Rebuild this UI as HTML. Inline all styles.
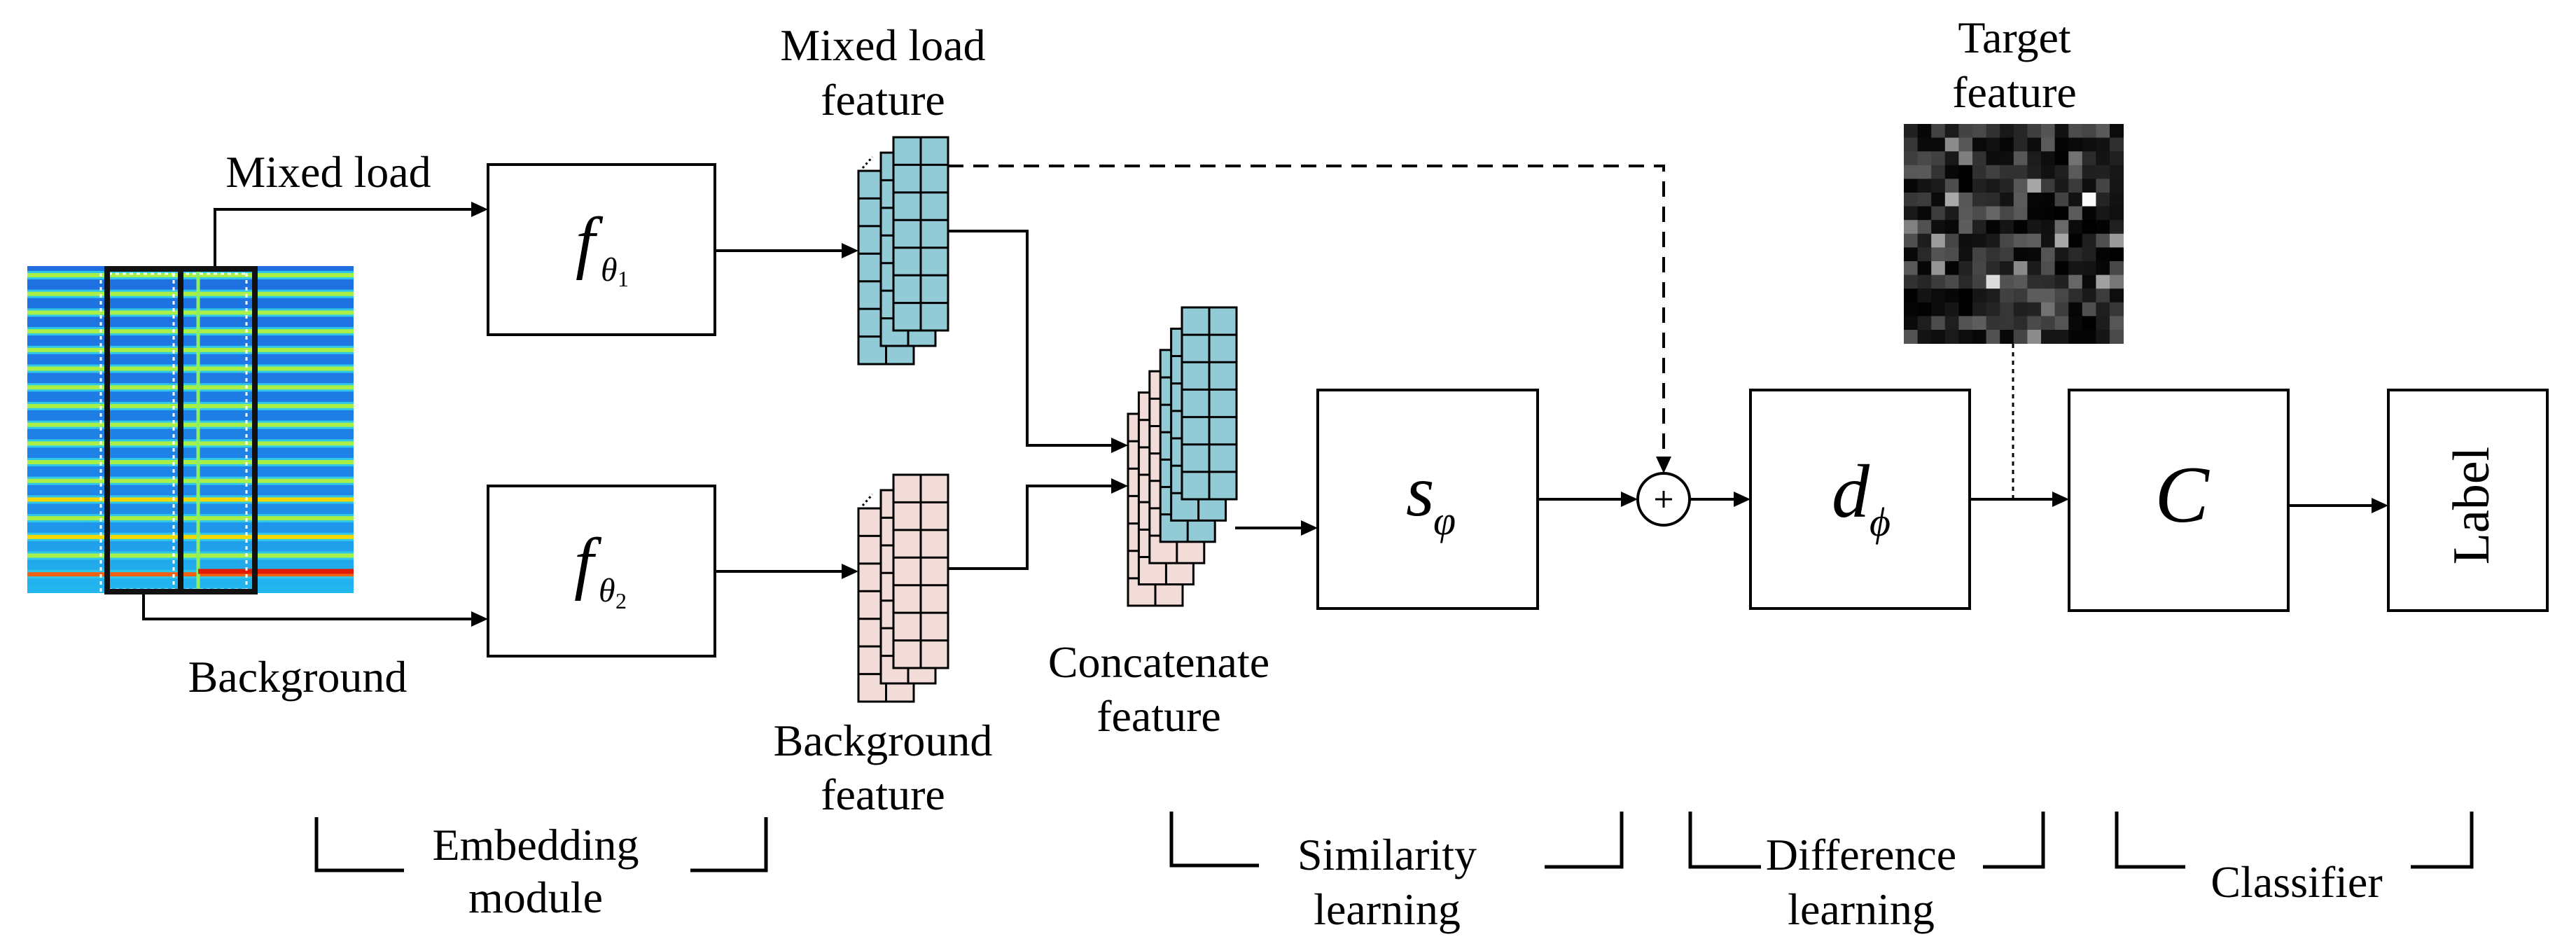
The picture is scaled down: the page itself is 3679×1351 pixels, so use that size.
<!DOCTYPE html>
<html><head><meta charset="utf-8">
<style>
html,body{margin:0;padding:0;background:#fff;}
#wrap{position:relative;width:3679px;height:1351px;overflow:hidden;}
svg{display:block;position:absolute;left:0;top:0;}
.t{position:absolute;font-family:"Liberation Serif","Times New Roman",serif;font-size:64px;line-height:64px;white-space:nowrap;color:#000;transform:translateX(-50%);}
.m{position:absolute;font-family:"Liberation Serif","Times New Roman",serif;font-style:italic;line-height:1;white-space:nowrap;color:#000;}
</style></head>
<body><div id="wrap">
<svg id="s" width="3679" height="1351" viewBox="0 0 3679 1351" xmlns="http://www.w3.org/2000/svg">
<defs>
<linearGradient id="bg" x1="0" y1="0" x2="0" y2="1">
<stop offset="0" stop-color="#1f6fe0"/><stop offset="0.7" stop-color="#1f86e8"/><stop offset="1" stop-color="#22b8ee"/>
</linearGradient>
</defs>
<rect x="39" y="380" width="466" height="467" fill="url(#bg)"/>
<g id="stripes"></g>
<line x1="283" y1="380" x2="283" y2="847" stroke="#8ef060" stroke-width="5"/>
<line x1="283" y1="816" x2="505" y2="816" stroke="#e21a00" stroke-width="7"/>
<g stroke="#fff" stroke-width="3" stroke-dasharray="5 5" fill="none">
<line x1="144" y1="390" x2="144" y2="845"/>
<line x1="248" y1="390" x2="248" y2="845"/>
<line x1="352" y1="390" x2="352" y2="845"/>
<line x1="155" y1="842" x2="350" y2="842"/>
<line x1="155" y1="391" x2="350" y2="391"/>
</g>
<rect x="153" y="384" width="211" height="461" fill="none" stroke="#111" stroke-width="8"/>
<line x1="258" y1="384" x2="258" y2="845" stroke="#111" stroke-width="8"/>

<g stroke="#000" stroke-width="4" fill="none">
<polyline points="307,380 307,299 676,299"/>
<polyline points="205,849 205,884 676,884"/>
<line x1="1021" y1="358" x2="1205" y2="358"/>
<line x1="1021" y1="816" x2="1205" y2="816"/>
<polyline points="1354,330 1467,330 1467,636 1590,636"/>
<polyline points="1354,812 1467,812 1467,694 1590,694"/>
<line x1="1764" y1="754" x2="1861" y2="754"/>
<line x1="2196" y1="713" x2="2318" y2="713"/>
<line x1="2414" y1="713" x2="2480" y2="713"/>
<line x1="2813" y1="713" x2="2935" y2="713"/>
<line x1="3268" y1="722" x2="3391" y2="722"/>
</g>
<polyline points="1354,237 2376,237 2376,655" stroke="#000" stroke-width="4" fill="none" stroke-dasharray="22 14"/>
<line x1="2875" y1="491" x2="2875" y2="713" stroke="#000" stroke-width="3" stroke-dasharray="6 6"/>
<g fill="#000">
<polygon points="697,299 673,288 673,310"/>
<polygon points="697,884 673,873 673,895"/>
<polygon points="1226,358 1202,347 1202,369"/>
<polygon points="1226,816 1202,805 1202,827"/>
<polygon points="1611,636 1587,625 1587,647"/>
<polygon points="1611,694 1587,683 1587,705"/>
<polygon points="1882,754 1858,743 1858,765"/>
<polygon points="2339,713 2315,702 2315,724"/>
<polygon points="2500,713 2476,702 2476,724"/>
<polygon points="2955,713 2931,702 2931,724"/>
<polygon points="3411,722 3387,711 3387,733"/>
<polygon points="2376,676 2365,652 2387,652"/>
</g>
<circle cx="2376" cy="713" r="37" fill="#fff" stroke="#000" stroke-width="4"/>
<line x1="2364" y1="713" x2="2388" y2="713" stroke="#000" stroke-width="3"/>
<line x1="2376" y1="701" x2="2376" y2="725" stroke="#000" stroke-width="3"/>

<g fill="#fff" stroke="#000" stroke-width="4">
<rect x="697" y="235" width="324" height="243"/>
<rect x="697" y="694" width="324" height="243"/>
<rect x="1882" y="557" width="314" height="312"/>
<rect x="2500" y="557" width="313" height="312"/>
<rect x="2955" y="557" width="313" height="315"/>
<rect x="3411" y="557" width="227" height="315"/>
</g>
<g id="stacks" stroke="#000" stroke-width="3"></g>
<g stroke="#000" stroke-width="3" stroke-dasharray="3 4">
<line x1="1232" y1="240" x2="1246" y2="224"/>
<line x1="1232" y1="722" x2="1246" y2="706"/>
</g>
<g id="tgt"></g>
<g stroke="#000" stroke-width="5" fill="none">
<polyline points="452,1167 452,1243 577,1243"/>
<polyline points="986,1243 1094,1243 1094,1167"/>
<polyline points="1673,1159 1673,1236 1798,1236"/>
<polyline points="2206,1238 2316,1238 2316,1159"/>
<polyline points="2414,1159 2414,1238 2515,1238"/>
<polyline points="2832,1238 2918,1238 2918,1159"/>
<polyline points="3023,1159 3023,1238 3121,1238"/>
<polyline points="3443,1238 3530,1238 3530,1159"/>
</g>
</svg>

<div class="m" style="left:822px;top:296px;font-size:100px;">f</div>
<div class="m" style="left:858px;top:362px;font-size:48px;">θ</div>
<div class="m" style="left:882px;top:382px;font-size:32px;font-style:normal;">1</div>
<div class="m" style="left:820px;top:754px;font-size:100px;">f</div>
<div class="m" style="left:855px;top:820px;font-size:48px;">θ</div>
<div class="m" style="left:879px;top:842px;font-size:32px;font-style:normal;">2</div>
<div class="m" style="left:2008px;top:650px;font-size:104px;">s</div>
<div class="m" style="left:2047px;top:715px;font-size:58px;">φ</div>
<div class="m" style="left:2616px;top:649px;font-size:108px;">d</div>
<div class="m" style="left:2670px;top:717px;font-size:58px;">ϕ</div>
<div class="m" style="left:3116px;top:649px;font-size:116px;transform:translateX(-50%);">C</div>
<div class="t" style="left:3530px;top:685px;font-size:74px;line-height:74px;transform:translateX(-50%) rotate(-90deg);">Label</div>

<div class="t" style="left:469px;top:214px;">Mixed load</div>
<div class="t" style="left:425px;top:935px;">Background</div>
<div class="t" style="left:1261px;top:33px;">Mixed load</div>
<div class="t" style="left:1261px;top:111px;">feature</div>
<div class="t" style="left:1261px;top:1026px;">Background</div>
<div class="t" style="left:1261px;top:1103px;">feature</div>
<div class="t" style="left:1655px;top:914px;">Concatenate</div>
<div class="t" style="left:1655px;top:991px;">feature</div>
<div class="t" style="left:2877px;top:22px;">Target</div>
<div class="t" style="left:2877px;top:100px;">feature</div>
<div class="t" style="left:765px;top:1175px;">Embedding</div>
<div class="t" style="left:765px;top:1250px;">module</div>
<div class="t" style="left:1981px;top:1189px;">Similarity</div>
<div class="t" style="left:1981px;top:1267px;">learning</div>
<div class="t" style="left:2658px;top:1189px;">Difference</div>
<div class="t" style="left:2658px;top:1267px;">learning</div>
<div class="t" style="left:3280px;top:1228px;">Classifier</div>
</div>
<script>
var NS="http://www.w3.org/2000/svg";
function el(p,t,a){var e=document.createElementNS(NS,t);for(var k in a)e.setAttribute(k,a[k]);p.appendChild(e);return e;}
var st=document.getElementById('stripes');
for(var i=0;i<17;i++){var y=393+i*26.7;
 var c=i==16?"#f06010":(i==14||i==12)?"#f0d800":"#a8f048";
 el(st,'rect',{x:39,y:y-6,width:466,height:12,fill:"#30c8ea"});
 el(st,'rect',{x:39,y:y-3,width:466,height:6,fill:c});
}
var sk=document.getElementById('stacks');
function layer(x,y,w,h,fill,rows){
 el(sk,'rect',{x:x,y:y,width:w,height:h,fill:fill});
 el(sk,'line',{x1:x+w/2,y1:y,x2:x+w/2,y2:y+h});
 for(var r=1;r<rows;r++)el(sk,'line',{x1:x,y1:y+h*r/rows,x2:x+w,y2:y+h*r/rows});
}
layer(1226,244,79,276,"#92cad6",7);layer(1258,218,78,276,"#92cad6",7);layer(1276,196,78,276,"#92cad6",7);
layer(1226,726,79,276,"#f2dcd8",7);layer(1258,700,78,276,"#f2dcd8",7);layer(1276,678,78,276,"#f2dcd8",7);
for(var i=0;i<6;i++){layer(1611+i*15.4,591-i*30.4,78,274,i<3?"#f2dcd8":"#92cad6",7);}
var tg=document.getElementById('tgt');var seed=7;
function rnd(){seed=(seed*16807)%2147483647;return seed/2147483647;}
el(tg,'rect',{x:2719,y:177,width:313,height:313,fill:"#0a0a0a"});
for(var r=0;r<16;r++)for(var c=0;c<16;c++){var v=rnd();var g=v<0.6?Math.floor(rnd()*35):v<0.93?35+Math.floor(rnd()*60):100+Math.floor(rnd()*70);
 if(r==5&&c==13)g=250;if(r==11&&c==6)g=220;
 el(tg,'rect',{x:2719+c*19.6,y:177+r*19.6,width:20,height:20,fill:"rgb("+g+","+g+","+g+")"});}
</script>
</body></html>
